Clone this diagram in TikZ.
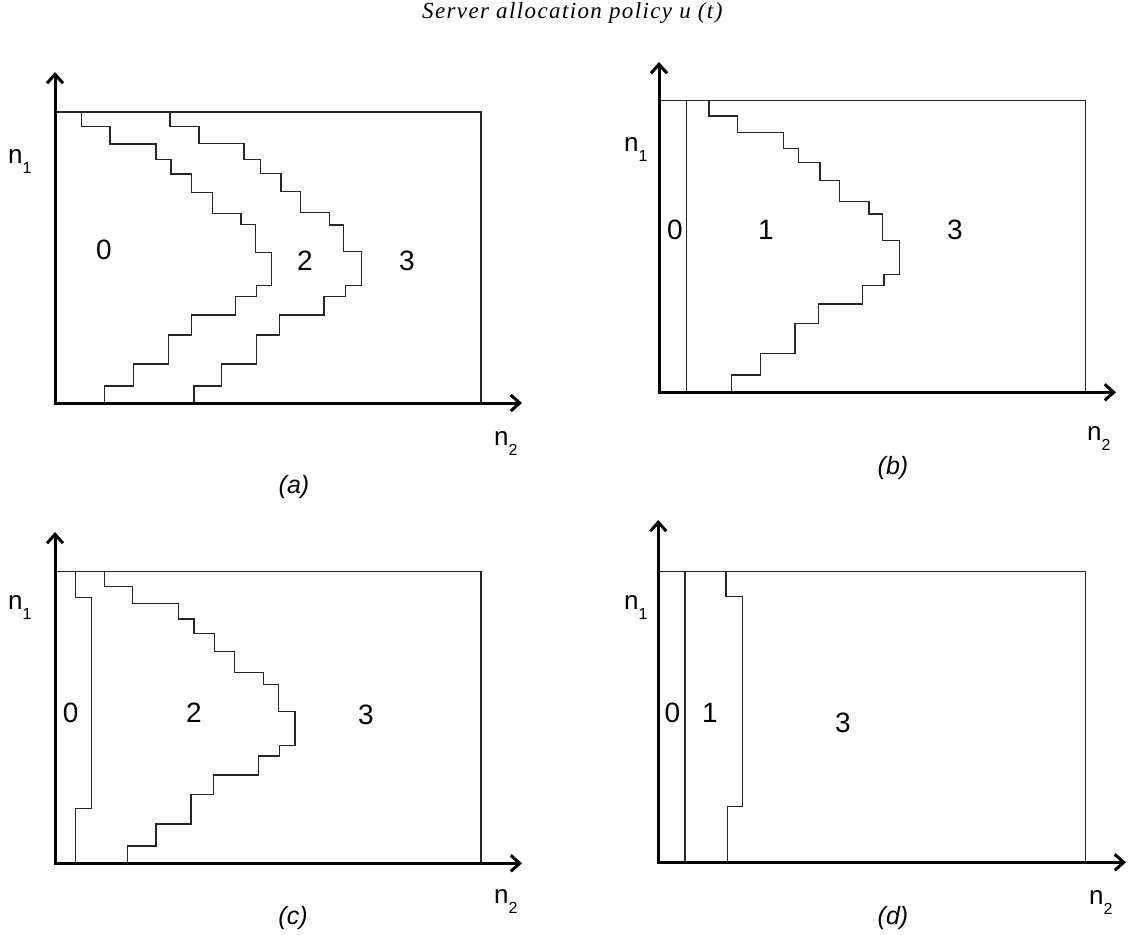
\documentclass[tikz,border=0pt]{standalone}
\usepackage{fontspec}
\setmainfont{Liberation Sans}
\newfontfamily\titlefont[LetterSpace=6]{Liberation Serif}
\usetikzlibrary{arrows.meta}
\newcommand{\nsub}[1]{n\raisebox{-10pt}{\fontsize{16}{16}\selectfont #1}}
\begin{document}
\begin{tikzpicture}[x=1pt,y=-1pt,
  axis/.style={line width=3pt, line join=miter,
    {Straight Barb[length=9pt,width=16pt]}-{Straight Barb[length=9pt,width=16pt]}},
  bline/.style={line width=1.2pt, line join=miter, draw=black!85},
  reg/.style={font=\fontsize{28}{28}\selectfont, inner sep=0pt},
  captxt/.style={font=\fontsize{25}{25}\selectfont\itshape, inner sep=0pt},
  nl/.style={font=\fontsize{26}{26}\selectfont, inner sep=0pt, anchor=base west}]
\useasboundingbox (0,0) rectangle (1129,934);

\node[inner sep=0pt, anchor=base west] (title) at (422,19) {\titlefont\itshape\fontsize{23}{23}\selectfont Server allocation policy u (t)};

% ---------- panel (a)
\draw[bline] (55,112) rectangle (481,403);
\draw[bline] (81.7,112) |- (110,126.7) |- (156,144) |- (171,159.3) |- (191.7,174) |- (212.3,192.3) |- (241,213.3) |- (255.7,224.3) |- (271.7,252.3) |- (256.7,285.7) |- (235.7,296.7) |- (191.7,315) |- (168.3,335) |- (133.3,364) |- (104.3,386) -- (104.3,403);
\draw[bline] (170,112) |- (199,126.7) |- (244,143.3) |- (260.7,159.3) |- (281,173.3) |- (300.7,191.7) |- (329.3,212.7) |- (343.3,225) |- (361.7,251.7) |- (345.7,285.7) |- (324,296.7) |- (279.3,315) |- (256.3,335) |- (221.7,364) |- (194,386) -- (194,403);
\draw[axis] (55,72) -- (55,403) -- (522,403);
\node[reg] (a0) at (104,250) {0};
\node[reg] (a2) at (305,261) {2};
\node[reg] (a3) at (407,261) {3};
\node[nl] (an1) at (8,163) {\nsub{1}};
\node[nl] (an2) at (494,445) {\nsub{2}};
\node[captxt] (acap) at (294,487) {(a)};

% ---------- panel (b)
\draw[bline] (659,100.7) rectangle (1085.7,392.3);
\draw[bline] (686.7,100.7) -- (686.7,392.3);
\draw[bline] (709,100.7) |- (737.3,116) |- (783.3,132.3) |- (798.3,148.3) |- (820,162.3) |- (839.3,180.7) |- (869,201.7) |- (882.3,214) |- (899.3,240.7) |- (884,274.3) |- (862.7,285.7) |- (818.3,304) |- (795,323.3) |- (760.7,353.3) |- (731.7,375) -- (731.7,392.3);
\draw[axis] (659,62) -- (659,392.3) -- (1116,392.3);
\node[reg] (b0) at (675,230) {0};
\node[reg] (b1) at (766,230) {1};
\node[reg] (b3) at (955,230) {3};
\node[nl] (bn1) at (624,151.7) {\nsub{1}};
\node[nl] (bn2) at (1087,440) {\nsub{2}};
\node[captxt] (bcap) at (893,468) {(b)};

% ---------- panel (c)
\draw[bline] (55,571.7) rectangle (481,863.3);
\draw[bline] (75.7,571.7) |- (91.7,597.3) |- (75.7,808.3) -- (75.7,863.3);
\draw[bline] (104.3,571.7) |- (132.3,586.7) |- (178.3,603.3) |- (194,619) |- (214.3,633.3) |- (234.3,651.7) |- (263.3,672.3) |- (278.3,684.3) |- (295,711.7) |- (279.3,745.7) |- (258.3,756) |- (213.3,775) |- (191,794.3) |- (156,824) |- (127.3,846) -- (127.3,863.3);
\draw[axis] (55,532) -- (55,863.3) -- (522,863.3);
\node[reg] (c0) at (70.7,713) {0};
\node[reg] (c2) at (194,713) {2};
\node[reg] (c3) at (366,715) {3};
\node[nl] (cn1) at (8,609) {\nsub{1}};
\node[nl] (cn2) at (494,903) {\nsub{2}};
\node[captxt] (ccap) at (293,918) {(c)};

% ---------- panel (d)
\draw[bline] (658.3,571.7) rectangle (1085.7,862.3);
\draw[bline] (685,571.7) -- (685,862.3);
\draw[bline] (726,571.7) |- (742.3,596.7) |- (727.3,806.7) -- (727.3,862.3);
\draw[axis] (658.3,520) -- (658.3,862.3) -- (1126,862.3);
\node[reg] (d0) at (672.3,713) {0};
\node[reg] (d1) at (710,713) {1};
\node[reg] (d3) at (843,723) {3};
\node[nl] (dn1) at (624,609) {\nsub{1}};
\node[nl] (dn2) at (1089,904) {\nsub{2}};
\node[captxt] (dcap) at (893,918) {(d)};
\end{tikzpicture}
\end{document}
